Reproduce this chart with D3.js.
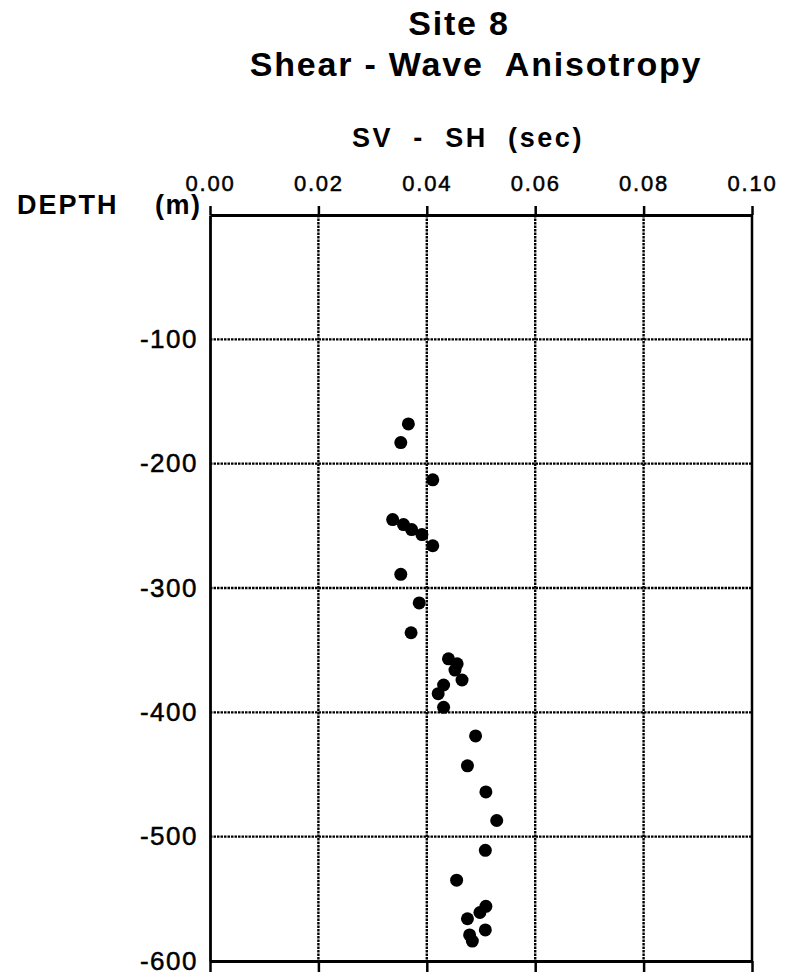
<!DOCTYPE html>
<html>
<head>
<meta charset="utf-8">
<script src="https://cdn.jsdelivr.net/npm/d3@7"></script>
<style>
  html, body { margin: 0; padding: 0; background: #fff; }
  svg { display: block; }
  text { font-family: "Liberation Sans", Arial, Helvetica, sans-serif; fill: #000; white-space: pre; }
</style>
</head>
<body>
<svg id="chart" width="788" height="977"></svg>
<script>
// SV - SH travel-time difference (sec) measured at each depth (m)
const splitTime = [
  0.0366, 0.0352, 0.0411, 0.0337, 0.0357, 0.0372, 0.0391, 0.0411, 0.0352, 0.0386,
  0.0371, 0.0440, 0.0456, 0.0452, 0.0465, 0.0431, 0.0421, 0.0431, 0.0490, 0.0475,
  0.0509, 0.0529, 0.0508, 0.0455, 0.0509, 0.0498, 0.0475, 0.0508, 0.0479, 0.0484
];
const depth = [
  -168, -183, -213, -245, -249, -253, -257, -266, -289, -312,
  -336, -357, -361, -366, -374, -378, -385, -396, -419, -443,
  -464, -487, -511, -535, -556, -561, -566, -575, -579, -584
];
const xTicks = [0.00, 0.02, 0.04, 0.06, 0.08, 0.10];
const yTicks = [-100, -200, -300, -400, -500, -600];
const titleLines = ["Site 8", "Shear - Wave  Anisotropy"];
const xTitle = "SV  -  SH  (sec)";
const yTitleParts = ["DEPTH", "(m)"];

const svg = d3.select("#chart");
const plotL = 210, plotR = 752, plotT = 215, plotB = 961;

const x = d3.scaleLinear().domain([0, 0.10]).range([plotL, plotR]);
const y = d3.scaleLinear().domain([0, -600]).range([plotT, plotB]);

// Titles
svg.append("text").attr("x", 459).attr("y", 35)
  .attr("text-anchor", "middle").attr("font-size", 34).attr("font-weight", "bold")
  .attr("letter-spacing", 1.8).text(titleLines[0]);
svg.append("text").attr("x", 476).attr("y", 76)
  .attr("text-anchor", "middle").attr("font-size", 34).attr("font-weight", "bold")
  .attr("letter-spacing", 1.8).text(titleLines[1]);

// Dotted grid
const grid = svg.append("g").attr("stroke", "#000").attr("stroke-width", 2.4)
  .attr("stroke-dasharray", "2.5,1");
grid.selectAll("line.v").data(xTicks.slice(1, -1)).join("line").attr("class", "v")
  .attr("x1", d => x(d)).attr("x2", d => x(d)).attr("y1", plotT).attr("y2", plotB);
grid.selectAll("line.h").data(yTicks.slice(0, -1)).join("line").attr("class", "h")
  .attr("x1", plotL).attr("x2", plotR).attr("y1", d => y(d)).attr("y2", d => y(d));

// Top axis with labels
const gTop = svg.append("g").attr("transform", `translate(0,${plotT})`)
  .call(d3.axisTop(x).tickValues(xTicks).tickSize(9).tickSizeOuter(0).tickPadding(15)
    .tickFormat(d3.format(".2f")));
gTop.selectAll("text").attr("font-size", 22).attr("letter-spacing", 1.8)
  .attr("font-family", "Liberation Sans, Arial, sans-serif").attr("fill", "#000")
  .attr("stroke", "#000").attr("stroke-width", 0.5);

// Bottom axis, ticks only
const gBot = svg.append("g").attr("transform", `translate(0,${plotB})`)
  .call(d3.axisBottom(x).tickValues(xTicks).tickSize(11).tickSizeOuter(0).tickFormat(""));

// Left axis with depth labels
const gLeft = svg.append("g").attr("transform", `translate(${plotL},0)`)
  .call(d3.axisLeft(y).tickValues(yTicks).tickSize(0).tickSizeOuter(0).tickPadding(12)
    .tickFormat(d => String(d)));
gLeft.selectAll("text").attr("font-size", 26).attr("letter-spacing", 1.5)
  .attr("font-family", "Liberation Sans, Arial, sans-serif").attr("fill", "#000")
  .attr("stroke", "#000").attr("stroke-width", 0.5);

// Right frame edge
svg.append("line").attr("x1", x(0.10)).attr("x2", x(0.10)).attr("y1", plotT).attr("y2", plotB)
  .attr("stroke", "#000").attr("stroke-width", 2.5);

[gTop, gBot, gLeft].forEach(g => {
  g.selectAll("path.domain").attr("stroke", "#000").attr("stroke-width", 2.8);
  g.selectAll(".tick line").attr("stroke", "#000").attr("stroke-width", 2.5);
});

// Axis titles
svg.append("text").attr("x", 468).attr("y", 147)
  .attr("text-anchor", "middle").attr("font-size", 27).attr("font-weight", "bold")
  .attr("letter-spacing", 2.6).text(xTitle);
const yt = svg.append("text").attr("y", 214)
  .attr("font-size", 27).attr("font-weight", "bold").attr("letter-spacing", 2);
yt.append("tspan").attr("x", 17).text(yTitleParts[0]);
yt.append("tspan").attr("x", 155).attr("letter-spacing", 1.5).text(yTitleParts[1]);

// Data points
svg.append("g").selectAll("circle").data(depth).join("circle")
  .attr("cx", (d, i) => x(splitTime[i])).attr("cy", d => y(d)).attr("r", 6.5)
  .attr("fill", "#000");
</script>
</body>
</html>
